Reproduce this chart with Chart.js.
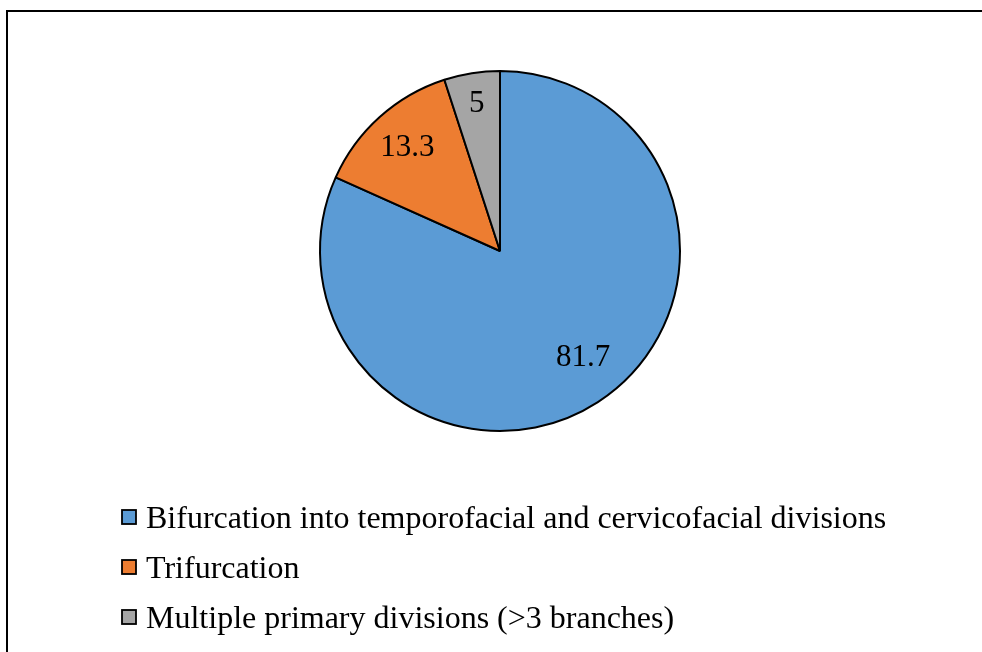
<!DOCTYPE html>
<html>
<head>
<meta charset="utf-8">
<script src="https://cdn.jsdelivr.net/npm/chart.js@4.4.0/dist/chart.umd.min.js"></script>
<style>
html,body{margin:0;padding:0;background:#fff;width:982px;height:652px;overflow:hidden;}
#wrap{position:relative;width:982px;height:652px;}
#frame{position:absolute;left:6px;top:10px;width:1100px;height:1000px;border:2.5px solid #000;box-sizing:border-box;}
canvas{position:absolute;left:0;top:0;}
</style>
</head>
<body>
<div id="wrap">
<div id="frame"></div>
<canvas id="c" width="982" height="652"></canvas>
</div>
<script>
const categories = [
  "Bifurcation into temporofacial and cervicofacial divisions",
  "Trifurcation",
  "Multiple primary divisions (>3 branches)"
];
const values = [81.7, 13.3, 5];
const valueLabels = ["81.7", "13.3", "5"];
const colors = ["#5B9BD5", "#ED7D31", "#A5A5A5"];
const labelRadiusFraction = [0.75, 0.77, 0.83];
const labelAngleShiftDeg = [-5, 0, 0];

const FONT = "'Liberation Serif', 'Times New Roman', serif";

const labelPlugin = {
  id: 'sliceLabels',
  afterDatasetsDraw(chart) {
    const ctx = chart.ctx;
    const meta = chart.getDatasetMeta(0);
    ctx.save();
    ctx.font = "31px " + FONT;
    ctx.fillStyle = "#000";
    ctx.textAlign = "center";
    ctx.textBaseline = "middle";
    meta.data.forEach((arc, i) => {
      const p = arc.getProps(['x','y','startAngle','endAngle','outerRadius'], true);
      const mid = (p.startAngle + p.endAngle) / 2 + labelAngleShiftDeg[i] * Math.PI / 180;
      const r = p.outerRadius * labelRadiusFraction[i];
      ctx.fillText(valueLabels[i], p.x + Math.cos(mid) * r, p.y + Math.sin(mid) * r);
    });
    ctx.restore();
  }
};

const legendPlugin = {
  id: 'stackedLegend',
  afterDraw(chart) {
    const ctx = chart.ctx;
    const ds = chart.data.datasets[0];
    ctx.save();
    ctx.font = "32px " + FONT;
    ctx.textBaseline = "alphabetic";
    ctx.textAlign = "left";
    chart.data.labels.forEach((lab, i) => {
      const base = 528 + i * 50;
      ctx.fillStyle = ds.backgroundColor[i];
      ctx.fillRect(122, base - 18, 14, 14);
      ctx.lineWidth = 1.8;
      ctx.strokeStyle = "#000";
      ctx.strokeRect(122, base - 18, 14, 14);
      ctx.fillStyle = "#000";
      ctx.fillText(lab, 146, base);
    });
    ctx.restore();
  }
};

new Chart(document.getElementById('c'), {
  type: 'pie',
  data: {
    labels: categories,
    datasets: [{
      data: values,
      backgroundColor: colors,
      borderColor: "#000",
      borderWidth: 2
    }]
  },
  options: {
    responsive: false,
    animation: false,
    layout: { padding: { left: 319, right: 301, top: 70, bottom: 220 } },
    plugins: {
      legend: { display: false },
      tooltip: { enabled: false }
    }
  },
  plugins: [labelPlugin, legendPlugin]
});
</script>
</body>
</html>
